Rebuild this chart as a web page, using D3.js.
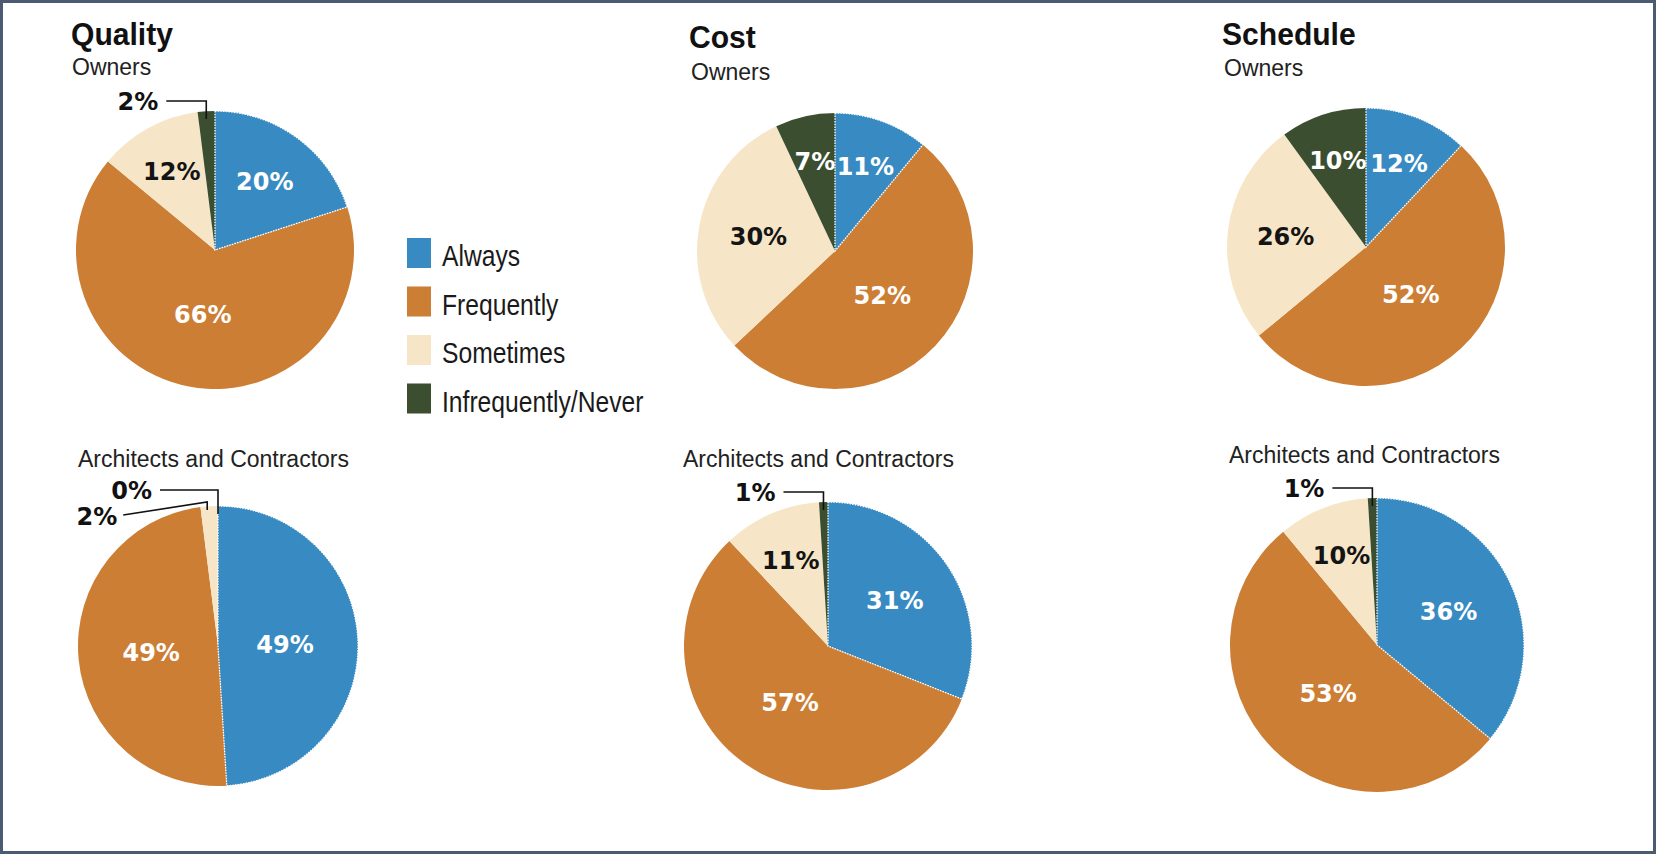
<!DOCTYPE html>
<html>
<head>
<meta charset="utf-8">
<script src="https://cdn.jsdelivr.net/npm/d3@7"></script>
<style>
  body { margin: 0; background: #fff; }
  svg { display: block; }
</style>
</head>
<body>
<svg id="chart" width="1656" height="854"></svg>
<script>
// Response categories, in slice order (clockwise from 12 o'clock)
const categories = ["Always", "Frequently", "Sometimes", "Infrequently/Never"];
const topics = ["Quality", "Cost", "Schedule"];
const groups = ["Owners", "Architects and Contractors"];

// Percent of respondents per category
const qualityOwners = [20, 66, 12, 2];
const qualityArchitectsContractors = [49, 49, 2, 0];
const costOwners = [11, 52, 30, 7];
const costArchitectsContractors = [31, 57, 11, 1];
const scheduleOwners = [12, 52, 26, 10];
const scheduleArchitectsContractors = [36, 53, 10, 1];

// Palette and label ink per category
const palette = ["#388bc2", "#cc7e34", "#f6e6c7", "#3b4f30"];
const labelInk = ["#ffffff", "#ffffff", "#141414", "#ffffff"];

const svg = d3.select("#chart");
const W = 1656, H = 854;

// outer frame
svg.append("rect")
  .attr("x", 1.5).attr("y", 1.5)
  .attr("width", W - 3).attr("height", H - 3)
  .attr("fill", "#fff")
  .attr("stroke", "#4d5b72")
  .attr("stroke-width", 3);

// panel layout: one column per topic, owners on top, architects/contractors below
const panels = [
  { topic: 0, group: 0, values: qualityOwners,                 cx: 215,  cy: 250, r: 139, tx: 71,   ty: 45, sx: 72,   sy: 75 },
  { topic: 1, group: 0, values: costOwners,                    cx: 835,  cy: 251, r: 138, tx: 689,  ty: 48, sx: 691,  sy: 80 },
  { topic: 2, group: 0, values: scheduleOwners,                cx: 1366, cy: 247, r: 139, tx: 1222, ty: 45, sx: 1224, sy: 76 },
  { topic: 0, group: 1, values: qualityArchitectsContractors,  cx: 218,  cy: 646, r: 140, sx: 78,   sy: 467 },
  { topic: 1, group: 1, values: costArchitectsContractors,     cx: 828,  cy: 646, r: 144, sx: 683,  sy: 467 },
  { topic: 2, group: 1, values: scheduleArchitectsContractors, cx: 1377, cy: 645, r: 147, sx: 1229, sy: 463 }
];

const pie = d3.pie().sort(null).value(d => d);
const fmt = v => v + "%";

const titleFont = "'Liberation Sans', Arial, sans-serif";
const labelFont = "'DejaVu Sans', 'Liberation Sans', sans-serif";

panels.forEach(p => {
  const g = svg.append("g");

  if (p.tx !== undefined) {
    g.append("text")
      .attr("transform", `translate(${p.tx},${p.ty}) scale(0.94,1)`)
      .attr("font-family", titleFont)
      .attr("font-weight", "bold")
      .attr("font-size", 32)
      .attr("fill", "#111")
      .text(topics[p.topic]);
  }
  g.append("text")
    .attr("x", p.sx).attr("y", p.sy)
    .attr("font-family", titleFont)
    .attr("font-size", 23)
    .attr("fill", "#222")
    .text(groups[p.group]);

  const arcs = pie(p.values).map((a, i) => Object.assign(a, { cat: i }));
  const arc = d3.arc().innerRadius(0).outerRadius(p.r);

  const pg = g.append("g").attr("transform", `translate(${p.cx},${p.cy})`);

  pg.selectAll("path.slice")
    .data(arcs.filter(a => a.value > 0))
    .join("path")
    .attr("class", "slice")
    .attr("d", arc)
    .attr("fill", d => palette[d.cat]);

  // dotted white edge around the "Always" wedge
  pg.selectAll("path.edge")
    .data(arcs.filter(a => a.value > 0 && a.cat === 0))
    .join("path")
    .attr("class", "edge")
    .attr("d", arc)
    .attr("fill", "none")
    .attr("stroke", "#ffffff")
    .attr("stroke-width", 1.3)
    .attr("stroke-dasharray", "1.5 1.2");

  // in-slice value labels, pulled toward the rim for narrow slices
  const inside = arcs.filter(a => a.value >= 3);
  pg.selectAll("text.val")
    .data(inside)
    .join("text")
    .attr("class", "val")
    .each(function (d) {
      const mid = (d.startAngle + d.endAngle) / 2;
      const ratio = Math.max(0.47, 0.7 - 0.45 * d.value / 100);
      const R = p.r * ratio;
      d3.select(this)
        .attr("x", R * Math.sin(mid))
        .attr("y", -R * Math.cos(mid));
    })
    .attr("dy", "0.36em")
    .attr("text-anchor", "middle")
    .attr("font-family", labelFont)
    .attr("font-weight", "bold")
    .attr("font-size", 24)
    .attr("fill", d => labelInk[d.cat])
    .text(d => fmt(d.value));

  // callouts for the thinnest slices, with elbow leader lines
  const small = arcs.filter(a => a.value < 3);
  const n = small.length;
  const top = -p.r;
  small.forEach((d, k) => {
    const level = n - 1 - k;            // 0 = slice nearest 12 o'clock
    const mid = (d.startAngle + d.endAngle) / 2;
    const mx = p.r * Math.sin(mid);
    let pts, tx, ty;
    if (level === 0) {
      const ey = top - (n > 1 ? 16 : 10);
      const L = n > 1 ? 58 : 40;
      pts = [[mx - L, ey], [mx, ey], [mx, top + 8]];
      tx = mx - L - 8; ty = ey;
    } else {
      const sy = top + 9;
      pts = [[mx - 86, sy], [mx - 2, top - 4], [mx - 2, top + 4]];
      tx = mx - 92; ty = sy + 1;
    }
    pg.append("path")
      .attr("d", d3.line()(pts))
      .attr("fill", "none")
      .attr("stroke", "#111")
      .attr("stroke-width", 1.6);
    pg.append("text")
      .attr("x", tx).attr("y", ty)
      .attr("dy", "0.36em")
      .attr("text-anchor", "end")
      .attr("font-family", labelFont)
      .attr("font-weight", "bold")
      .attr("font-size", 24)
      .attr("fill", "#111")
      .text(fmt(d.value));
  });
});

// legend
const legend = svg.append("g").attr("transform", "translate(407,238)");
const item = legend.selectAll("g")
  .data(categories)
  .join("g")
  .attr("transform", (d, i) => `translate(0,${i * 48.5})`);
item.append("rect")
  .attr("width", 24).attr("height", 30)
  .attr("fill", (d, i) => palette[i]);
item.append("text")
  .attr("transform", "translate(35,28) scale(0.85,1)")
  .attr("font-family", "'Liberation Sans Narrow', 'Liberation Sans', sans-serif")
  .attr("font-size", 29)
  .attr("fill", "#1a1a1a")
  .text(d => d);
</script>
</body>
</html>
